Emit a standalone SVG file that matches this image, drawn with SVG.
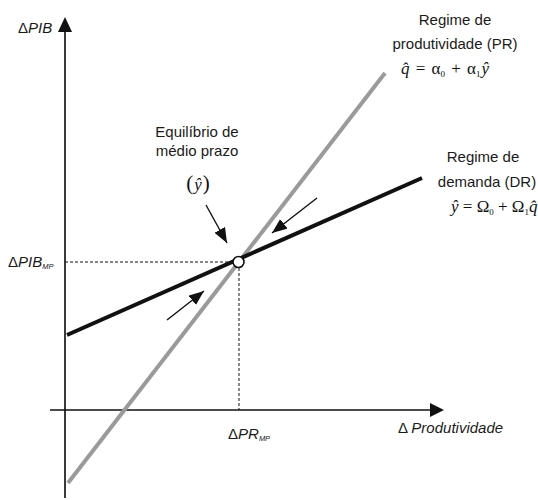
<svg xmlns="http://www.w3.org/2000/svg" width="538" height="500" viewBox="0 0 538 500">
<style>
.lbl{font-family:"Liberation Sans",Arial,sans-serif;font-size:15px;fill:#1a1a1a}
.it{font-style:italic}
.sub{font-family:"Liberation Sans",Arial,sans-serif;font-size:7.5px;font-style:italic;fill:#1a1a1a}
.m{font-family:"Liberation Serif","Times New Roman",serif;font-size:17px;fill:#111}
.ms{font-size:9px}
.dash{stroke:#111;stroke-width:1;stroke-dasharray:3 2;fill:none}
.arr{stroke:#111;stroke-width:1.4;fill:none;marker-end:url(#ah)}
</style>
<defs>
<marker id="ah" markerUnits="userSpaceOnUse" markerWidth="16" markerHeight="14" refX="15" refY="6" orient="auto">
<path d="M0,0 L15,6 L0,12 Z" fill="#111"/>
</marker>
</defs>

<g id="axes">
<line x1="65" y1="31" x2="65" y2="498" stroke="#3a3a3a" stroke-width="2"/>
<path d="M65,17 L72,32 L58,32 Z" fill="#111"/>
<line x1="50" y1="410" x2="431" y2="410" stroke="#111" stroke-width="1.6"/>
<path d="M444,410 L430,403 L430,417 Z" fill="#111"/>
</g>

<g id="guides">
<line class="dash" x1="65" y1="262" x2="233" y2="262"/>
<line class="dash" x1="239" y1="268" x2="239" y2="410"/>
</g>

<g id="curves">
<line id="pr-line" x1="68" y1="483" x2="385" y2="73" stroke="#9a9a9a" stroke-width="4"/>
<line id="dr-line" x1="67" y1="335" x2="422" y2="178" stroke="#111" stroke-width="4"/>
</g>

<g id="connectors">
<line class="arr" x1="206" y1="205" x2="227" y2="243"/>
<line class="arr" x1="317" y1="198" x2="272" y2="233"/>
<line class="arr" x1="167" y1="320" x2="204" y2="291"/>
</g>

<g id="equilibrium">
<circle cx="238.5" cy="262" r="5.5" fill="#fff" stroke="#111" stroke-width="1.6"/>
</g>

<g id="y-label">
<text class="lbl" x="18" y="33">Δ<tspan class="it">PIB</tspan></text>
</g>

<g id="x-label">
<text class="lbl" x="398" y="433">Δ <tspan class="it">Produtividade</tspan></text>
</g>

<g id="pib-mp">
<text class="lbl" x="8" y="267">Δ<tspan class="it">PIB</tspan><tspan class="sub" dy="2">MP</tspan></text>
</g>

<g id="pr-mp">
<text class="lbl" x="228" y="439">Δ<tspan class="it">PR</tspan><tspan class="sub" dy="2">MP</tspan></text>
</g>

<g id="pr-label">
<text class="lbl" x="455" y="25" text-anchor="middle">Regime de</text>
<text class="lbl" x="455" y="49" text-anchor="middle">produtividade (PR)</text>
<text class="m" x="401" y="74" xml:space="preserve"><tspan font-style="italic">q̂</tspan><tspan dx="2"> = </tspan><tspan dx="2">α</tspan><tspan class="ms" dy="3">0</tspan><tspan dy="-3" dx="2"> + </tspan><tspan dx="2">α</tspan><tspan class="ms" dy="3">1</tspan><tspan dy="-3" dx="1" font-style="italic">ŷ</tspan></text>
</g>

<g id="dr-label">
<text class="lbl" x="483" y="162" text-anchor="middle">Regime de</text>
<text class="lbl" x="487" y="187" text-anchor="middle">demanda (DR)</text>
<text class="m" x="451" y="212" font-size="16.5" xml:space="preserve"><tspan font-style="italic">ŷ</tspan> = Ω<tspan class="ms" dy="3">0</tspan><tspan dy="-3"> + Ω</tspan><tspan class="ms" dy="3">1</tspan><tspan dy="-3" font-style="italic">q̂</tspan></text>
</g>

<g id="eq-label">
<text class="lbl" x="197" y="137" text-anchor="middle">Equilíbrio de</text>
<text class="lbl" x="197" y="156" text-anchor="middle">médio prazo</text>
<text class="m" x="198" y="190" text-anchor="middle"><tspan font-size="21">(</tspan><tspan font-style="italic" dx="1">ŷ</tspan><tspan font-size="21" dx="1">)</tspan></text>
</g>
</svg>
